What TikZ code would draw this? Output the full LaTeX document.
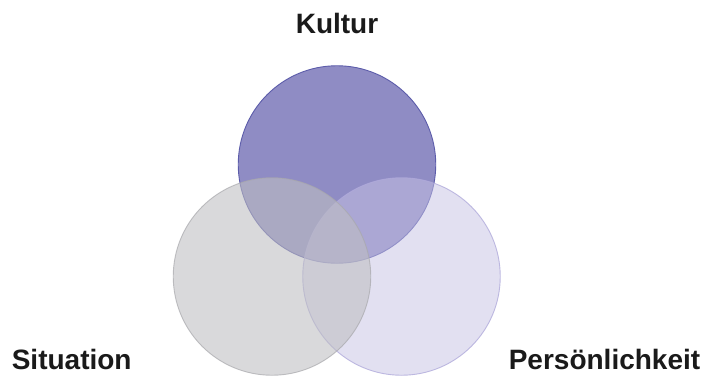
\documentclass[tikz,border=0pt]{standalone}
\usepackage{fontspec}
\setmainfont{Liberation Sans}
\definecolor{kulturfill}{HTML}{8F8CC4}
\definecolor{kulturline}{HTML}{5C5CAA}
\definecolor{sitfill}{HTML}{BEBEC2}
\definecolor{sitline}{HTML}{A8A8AC}
\definecolor{perfill}{HTML}{C7C3E5}
\definecolor{perline}{HTML}{B0AADB}
\definecolor{labeltext}{HTML}{1A1A1A}
\tikzset{
  venn/.style={circle, minimum size=197.5pt, inner sep=0pt, line width=0.9pt},
  lbl/.style={font=\bfseries\fontsize{28}{32}\selectfont, text=labeltext, inner sep=0pt, anchor=base}
}
\begin{document}
\begin{tikzpicture}[x=1pt,y=-1pt]
\useasboundingbox (0,0) rectangle (705,376);
\fill[white] (0,0) rectangle (705,376);
\node[venn, fill=kulturfill, draw=kulturline] (kultur) at (337,164.5) {};
\node[venn, fill=perfill, fill opacity=0.5, draw=perline, draw opacity=0.8] (pers) at (401.5,276.5) {};
\node[venn, fill=sitfill, fill opacity=0.58, draw=sitline, draw opacity=0.7] (sit) at (272,276.5) {};
\node[lbl] (tk) at (337,33.3) {Kultur};
\node[lbl] (ts) at (71.7,369.3) {Situation};
\node[lbl] (tp) at (604.5,369.3) {Persönlichkeit};
\end{tikzpicture}
\end{document}
